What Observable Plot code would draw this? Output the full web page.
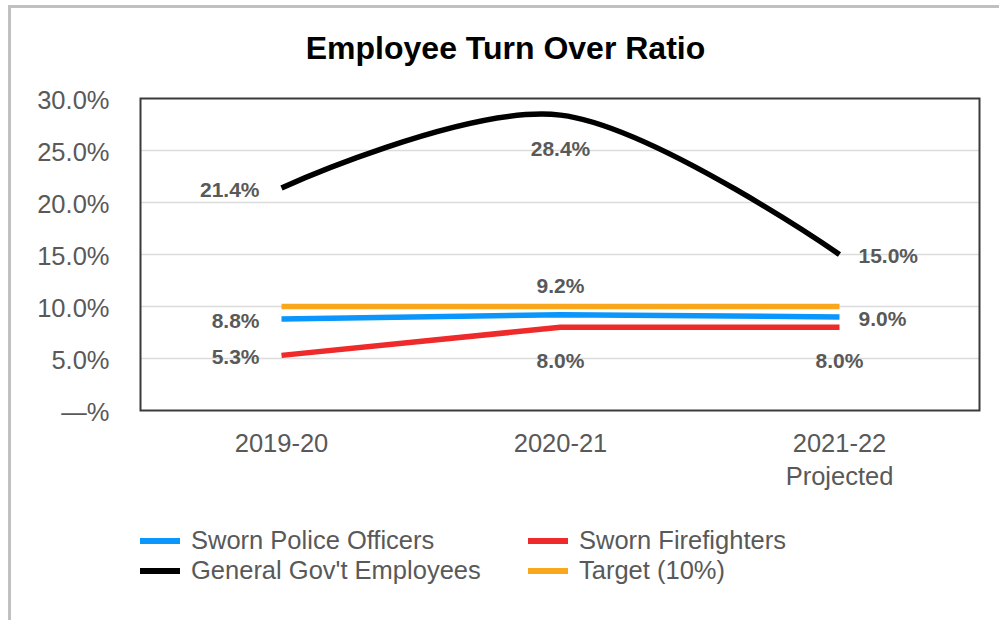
<!DOCTYPE html>
<html>
<head>
<meta charset="utf-8">
<script src="https://cdn.jsdelivr.net/npm/d3@7"></script>
<script src="https://cdn.jsdelivr.net/npm/@observablehq/plot@0.6"></script>
<style>
  body { margin: 0; background: #fff; font-family: "Liberation Sans", Arial, sans-serif; }
  #wrap { position: relative; width: 999px; height: 620px; overflow: hidden; background: #fff; }
  #border { position: absolute; left: 8px; top: 5px; width: 1100px; height: 800px;
            border-top: 3px solid #c0c0c0; border-left: 3px solid #c0c0c0; }
  #chart { position: absolute; left: 0; top: 0; }
  #title { position: absolute; left: 0; width: 1011px; top: 29px; line-height: 38px;
           text-align: center; font-weight: bold; font-size: 32px; color: #000; }
  .leg { position: absolute; height: 30px; line-height: 30px; font-size: 25.5px; color: #595959; white-space: nowrap; }
  .sw { position: absolute; width: 40px; height: 6px; }
</style>
</head>
<body>
<div id="wrap">
  <div id="border"></div>
  <div id="chart"></div>
  <div id="title">Employee Turn Over Ratio</div>
  <div id="legend"></div>
</div>
<script>
// ---- data ----
const years = ["2019-20", "2020-21", "2021-22"];
const yearLabels = ["2019-20", "2020-21", "2021-22\nProjected"];
const seriesNames = ["Sworn Police Officers", "Sworn Firefighters", "General Gov't Employees", "Target (10%)"];
const seriesColors = ["#0a96fa", "#ee2a2a", "#000000", "#f9a81e"];
const policeValues = [8.8, 9.2, 9.0];
const fireValues = [5.3, 8.0, 8.0];
const generalValues = [21.4, 28.4, 15.0];
const targetValues = [10, 10, 10];
const yTicks = [0, 5, 10, 15, 20, 25, 30];

// ---- build table ----
const seriesValues = [policeValues, fireValues, generalValues, targetValues];
const rows = [];
seriesNames.forEach((name, s) => {
  years.forEach((yr, i) => rows.push({series: name, year: yr, value: seriesValues[s][i], idx: i}));
});

// label placement (styling, not data)
const placement = {
  "General Gov't Employees": ["left", "below", "right"],
  "Sworn Police Officers": ["left", "above", "right"],
  "Sworn Firefighters": ["left", "below", "below"]
};
const labelRows = rows.filter(r => placement[r.series]).map(r => ({...r, pos: placement[r.series][r.idx]}));
const fmt = v => v.toFixed(1) + "%";
const labelStyle = {x: "year", y: "value", text: d => fmt(d.value), fill: "#595959",
                    fontWeight: "bold", fontSize: 21};

const colorOf = name => seriesColors[seriesNames.indexOf(name)];
const drawOrder = ["Target (10%)", "Sworn Firefighters", "Sworn Police Officers", "General Gov't Employees"];

const lineMarks = drawOrder.map(name => Plot.lineY(rows.filter(r => r.series === name), {
  x: "year", y: "value", stroke: colorOf(name), strokeWidth: 5.5,
  strokeLinecap: "butt", strokeLinejoin: "round",
  curve: name === "General Gov't Employees" ? "cardinal" : "linear"
}));

const chart = Plot.plot({
  width: 999,
  height: 620,
  marginLeft: 140,
  marginRight: 20,
  marginTop: 98,
  marginBottom: 210,
  style: {fontFamily: "'Liberation Sans', Arial, sans-serif", color: "#595959", background: "transparent", overflow: "visible"},
  x: {type: "point", domain: years, padding: 0.5},
  y: {domain: [0, 30]},
  marks: [
    Plot.gridY({ticks: [5, 10, 15, 20, 25], stroke: "#dcdcdc", strokeOpacity: 1, strokeWidth: 1.5}),
    Plot.frame({stroke: "#3a3a3a", strokeWidth: 2}),
    Plot.axisY({ticks: yTicks, tickSize: 0, tickPadding: 31, fontSize: 25.5, fill: "#595959", dy: 2.5,
                tickFormat: d => d === 0 ? "\u2014%" : d.toFixed(1) + "%", label: null}),
    Plot.axisX({tickSize: 0, tickPadding: 18, fontSize: 25.5, fill: "#595959", lineHeight: 1.3,
                tickFormat: d => yearLabels[years.indexOf(d)], label: null}),
    ...lineMarks,
    Plot.text(labelRows.filter(d => d.pos === "left"), {...labelStyle, textAnchor: "end", dx: -22, dy: 2}),
    Plot.text(labelRows.filter(d => d.pos === "right"), {...labelStyle, textAnchor: "start", dx: 19, dy: 2}),
    Plot.text(labelRows.filter(d => d.pos === "above"), {...labelStyle, dy: -29}),
    Plot.text(labelRows.filter(d => d.pos === "below"), {...labelStyle, dy: 34})
  ]
});
document.getElementById("chart").appendChild(chart);

// ---- legend ----
const legend = document.getElementById("legend");
const legPos = [[140, 541], [528, 541], [140, 571], [528, 571]];
seriesNames.forEach((name, i) => {
  const [lx, cy] = legPos[i];
  const sw = document.createElement("div");
  sw.className = "sw";
  sw.style.left = lx + "px";
  sw.style.top = (cy - 3) + "px";
  sw.style.background = seriesColors[i];
  legend.appendChild(sw);
  const t = document.createElement("div");
  t.className = "leg";
  t.style.left = (lx + 51) + "px";
  t.style.top = (cy - 16) + "px";
  t.textContent = name;
  legend.appendChild(t);
});
</script>
</body>
</html>
